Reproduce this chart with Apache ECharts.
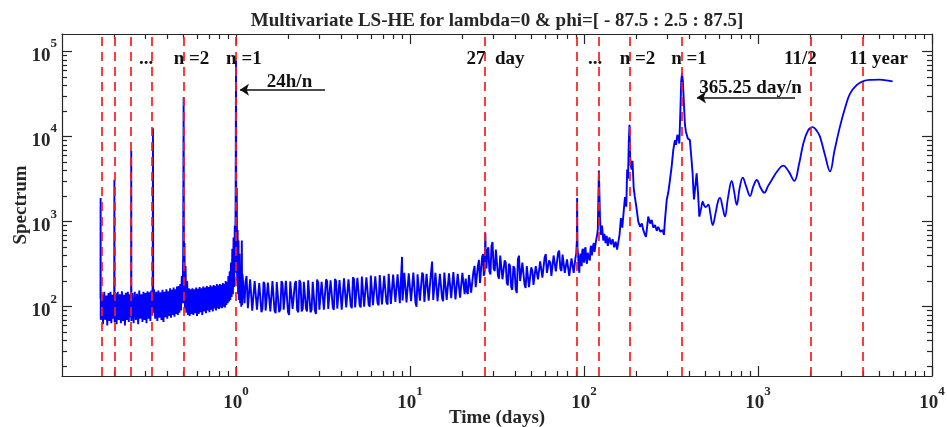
<!DOCTYPE html>
<html><head><meta charset="utf-8">
<script src="https://cdn.jsdelivr.net/npm/echarts@6/dist/echarts.min.js"></script>
<style>html,body{margin:0;padding:0;background:#fff}#c{width:947px;height:427px}</style>
</head><body><div id="c"></div>
<script>
// ---- data (period in days, spectrum value) ----
const diurnalBand = [[0.1664,125],[0.1667,1900],[0.1670,70],[0.1700,140],[0.1720,62],[0.1750,150],[0.1770,70],[0.1800,135],[0.1820,60],[0.1850,145],[0.1870,68],[0.1900,150],[0.1920,64],[0.1950,138],[0.1970,72],[0.1995,130],[0.2000,3100],[0.2005,66],[0.2030,145],[0.2060,62],[0.2090,150],[0.2120,70],[0.2150,140],[0.2180,64],[0.2210,152],[0.2240,68],[0.2270,138],[0.2300,60],[0.2330,146],[0.2360,70],[0.2390,150],[0.2420,66],[0.2450,140],[0.2480,75],[0.2495,150],[0.2500,6800],[0.2505,68],[0.2540,145],[0.2580,64],[0.2620,150],[0.2660,70],[0.2700,142],[0.2740,62],[0.2780,155],[0.2820,72],[0.2860,140],[0.2900,66],[0.2940,150],[0.2980,70],[0.3020,145],[0.3060,64],[0.3100,152],[0.3140,72],[0.3180,148],[0.3220,68],[0.3260,155],[0.3300,80],[0.3320,220],[0.3333,12500],[0.3345,85],[0.3380,160],[0.3430,72],[0.3480,150],[0.3530,68],[0.3580,155],[0.3630,74],[0.3680,148],[0.3730,70],[0.3780,158],[0.3830,66],[0.3880,150],[0.3930,75],[0.3980,160],[0.4030,72],[0.4080,152],[0.4130,78],[0.4180,165],[0.4230,74],[0.4280,158],[0.4330,80],[0.4380,168],[0.4430,76],[0.4480,160],[0.4530,82],[0.4580,172],[0.4630,80],[0.4680,175],[0.4730,85],[0.4780,185],[0.4830,90],[0.4880,230],[0.4930,110],[0.4970,420],[0.5000,29000],[0.5030,110],[0.5060,560],[0.5090,95],[0.5130,300],[0.5180,85],[0.5240,200],[0.5300,80],[0.5360,165],[0.5420,78],[0.5480,160],[0.5550,82],[0.5620,165],[0.5690,80],[0.5760,160],[0.5830,84],[0.5900,168],[0.5970,78],[0.6040,162],[0.6110,82],[0.6180,170],[0.6250,86],[0.6320,165],[0.6400,80],[0.6480,172],[0.6560,88],[0.6640,168],[0.6720,84],[0.6800,175],[0.6880,90],[0.6960,170],[0.7040,86],[0.7120,178],[0.7200,92],[0.7280,172],[0.7360,88],[0.7440,180],[0.7520,95],[0.7600,175],[0.7680,90],[0.7760,185],[0.7840,96],[0.7920,178],[0.8000,94],[0.8080,185],[0.8160,98],[0.8240,180],[0.8320,96],[0.8400,190],[0.8480,100],[0.8560,185],[0.8640,98],[0.8720,200],[0.8800,105],[0.8880,195],[0.8960,110],[0.9040,230],[0.9120,115],[0.9200,260],[0.9280,120],[0.9360,330],[0.9440,130],[0.9520,480],[0.9600,140],[0.9680,650],[0.9760,170],[0.9840,900],[0.9900,300],[0.9960,3000],[1.0000,78000],[1.0040,250],[1.0100,2500],[1.0160,200],[1.0220,800],[1.0280,140],[1.0340,600],[1.0400,120],[1.0480,420],[1.0560,110],[1.0640,300],[1.0720,100],[1.0800,600],[1.0850,105],[1.0900,240]];
const weatherBand = [[1.12,110],[1.135,200],[1.15,230],[1.17,96],[1.19,98],[1.205,210],[1.22,205],[1.24,90],[1.26,92],[1.28,200],[1.30,195],[1.32,92],[1.34,88],[1.36,190],[1.38,200],[1.40,86],[1.42,95],[1.44,196],[1.46,185],[1.48,90],[1.50,86],[1.525,192],[1.55,198],[1.575,88],[1.60,92],[1.62,200],[1.64,190],[1.665,90],[1.69,84],[1.715,195],[1.74,205],[1.77,86],[1.80,94],[1.825,200],[1.85,188],[1.88,92],[1.91,88],[1.935,202],[1.96,196],[1.99,86],[2.02,80],[2.05,198],[2.08,192],[2.115,94],[2.15,90],[2.18,188],[2.21,200],[2.245,92],[2.28,86],[2.315,206],[2.35,190],[2.385,88],[2.42,94],[2.455,196],[2.49,205],[2.525,95],[2.56,88],[2.60,204],[2.64,195],[2.68,86],[2.72,92],[2.76,196],[2.80,200],[2.84,90],[2.88,82],[2.925,208],[2.97,192],[3.015,92],[3.06,95],[3.105,196],[3.15,206],[3.20,92],[3.25,90],[3.295,210],[3.34,198],[3.39,94],[3.44,96],[3.495,204],[3.55,210],[3.60,98],[3.65,92],[3.705,212],[3.76,200],[3.82,95],[3.88,98],[3.935,206],[3.99,212],[4.05,92],[4.11,94],[4.175,216],[4.24,205],[4.30,98],[4.36,100],[4.43,210],[4.50,220],[4.565,102],[4.63,96],[4.70,222],[4.77,210],[4.84,98],[4.91,102],[4.985,218],[5.06,225],[5.135,104],[5.21,98],[5.29,226],[5.37,215],[5.45,100],[5.53,105],[5.615,222],[5.70,228],[5.785,106],[5.87,100],[5.955,232],[6.04,220],[6.13,104],[6.22,108],[6.315,228],[6.41,235],[6.505,110],[6.60,104],[6.70,236],[6.80,225],[6.90,106],[7.00,110],[7.105,230],[7.21,240],[7.32,112],[7.43,106],[7.54,244],[7.65,232],[7.765,108],[7.88,112],[8.00,238],[8.12,245],[8.24,114],[8.36,108],[8.485,240],[8.61,250],[8.74,110],[8.87,115],[9.00,385],[9.07,118],[9.14,112],[9.275,250],[9.41,240],[9.55,112],[9.69,118],[9.835,246],[9.98,255],[10.14,116],[10.3,110],[10.45,252],[10.6,245],[10.75,112],[10.9,100],[11.05,240],[11.2,250],[11.4,118],[11.6,115],[11.75,252],[11.9,238],[12.1,114],[12.3,120],[12.45,244],[12.6,248],[12.8,118],[13.0,114],[13.2,250],[13.4,340],[13.6,120],[13.8,118],[14.0,250],[14.2,242],[14.4,116],[14.6,122],[14.85,244],[15.1,250],[15.3,124],[15.5,116],[15.75,252],[16.0,245],[16.25,120],[16.5,124],[16.75,246],[17.0,255],[17.25,126],[17.5,120],[17.75,256],[18.0,248],[18.25,122],[18.5,126],[18.8,244],[19.1,252],[19.4,128],[19.7,122],[20.0,250],[20.3,240]];
const monthlyBand = [[20.6,140],[20.9,214],[21.2,150],[21.5,141],[21.8,236],[22.1,229],[22.45,146],[22.8,151],[23.15,260],[23.5,302],[23.85,170],[24.2,166],[24.55,300],[24.9,355],[25.25,190],[25.6,200],[25.95,380],[26.3,417],[26.55,230],[26.8,251],[27.1,740],[27.3,300],[27.5,282],[27.85,460],[28.2,500],[28.6,260],[29.0,240],[29.4,520],[29.8,575],[30.25,280],[30.7,263],[31.15,470],[31.6,447],[32.05,230],[32.5,214],[33.0,400],[33.5,380],[34.0,210],[34.5,200],[35.0,350],[35.5,331],[36.0,190],[36.5,178],[37.05,320],[37.6,302],[38.15,170],[38.7,158],[39.3,300],[39.9,282],[40.5,160],[41.1,145],[41.7,360],[42.3,398],[42.95,200],[43.6,190],[44.25,330],[44.9,316],[45.55,180],[46.2,166],[46.9,300],[47.6,288],[48.3,170],[49.0,178],[49.75,290],[50.5,263],[51.25,180],[52.0,174],[52.8,300],[53.6,316],[54.4,210],[55.2,200],[56.0,340],[56.8,355],[57.65,220],[58.5,209],[59.4,380],[60.3,417],[61.2,250],[62.1,240],[63.05,350],[64.0,331],[64.95,230],[65.9,219],[66.9,400],[67.9,380],[68.9,260],[69.9,251],[70.95,430],[72.0,457],[73.1,280],[74.2,263],[75.3,410],[76.4,398],[77.55,250],[78.7,240],[79.85,360],[81.0,380],[82.25,230],[83.5,219],[84.75,370],[86.0,355],[87.25,250],[88.5,240],[89.4,380],[90.2,417]];
const seasonalBand = [[91.0,600],[91.3,1900],[91.7,500],[92.5,400],[93.2,300],[94,250],[94.7,380],[95.5,420],[96.2,330],[97,300],[97.7,450],[98.5,480],[99.2,360],[100,330],[101,470],[102,500],[103,350],[104,320],[105,430],[106,450],[107,370],[108,350],[109,490],[110,520],[111,400],[112,380],[113,530],[114,560],[115,440],[116,420],[117,580],[118,600],[119,700],[120,800],[121.75,4000],[123.5,1150],[125,700],[127,900],[129,600],[131,720],[133,560],[135,680],[137,520],[140,650],[143,540],[146,620],[149,500],[152,580],[155,470],[157,480],[160,700],[163,1100],[166,850],[169,1300],[172,1950],[175,1500],[177,4100],[179,3200],[181,9000],[182.6,13800],[184,6000],[186,4500],[188,4100],[190,5200],[193,2500],[196,1950],[201,1380],[205,1000],[210,870],[215,950],[219,800],[223,720],[227,660],[231,900],[234,1150],[240,950],[245,1050],[250,850],[256,910],[262,780],[267,870],[275,760],[283,800],[288,700],[292,1050],[299,1820],[305,2200],[312,3100],[319,4470],[326,7000],[333,9100],[338,8000],[344,10500],[349,9500],[353,8300],[358,20000],[362,45000],[366,56000],[370,45000],[375,25000],[380,14000],[385,11500],[389,11000],[395,9500],[400,10000],[406,9100],[413,6000],[421,3700],[425,2400],[429,1820],[436,2600],[444,3700],[452,2200],[460,1150]];
const longPeriod = [[460,1150],[472,1450],[481,1720],[490,1560],[500,1480],[518,1580],[532,1250],[549,912],[570,1250],[590,1750],[605,1900],[625,1500],[646,1150],[672,1900],[706,3020],[728,2300],[755,1580],[785,2500],[817,3300],[855,2600],[900,2000],[940,2600],[984,3090],[1035,2500],[1087,2190],[1140,2600],[1199,3090],[1300,4000],[1397,4570],[1500,3900],[1617,3020],[1720,4700],[1822,8300],[1940,11800],[2062,12900],[2170,11800],[2270,10000],[2430,6000],[2594,3900],[2750,6800],[2960,13200],[3170,22000],[3380,32000],[3700,40500],[4030,45000],[4500,46500],[5020,46800],[5500,45800],[5940,44700]];

// reference periods (days): 24h/n for n=6..1, 27 day, 365.25/n for n=4..1, 11/2 and 11 years
const referencePeriods = [0.1667, 0.2, 0.25, 0.3333, 0.5, 1, 27, 91.31, 121.75, 182.63, 365.25, 2008.9, 4017.8];

// annotation texts and their anchor points in data coordinates
const annotationTexts = ['...', 'n =2', 'n =1', '24h/n', '27  day', '...', 'n =2', 'n =1', '365.25 day/n', '11/2', '11 year'];
const annotationX = [0.304, 0.555, 1.11, 2.03, 31.0, 115.7, 203, 401, 906, 1754, 4930];
const annotationY = [82000, 82000, 82000, 44000, 82000, 82000, 82000, 82000, 37400, 82000, 82000];
const arrowFrom = [[3.25, 35500], [1632, 28800]];
const arrowTo = [[1.054, 35500], [446, 28800]];

// axis ticks
const xMajorTicks = [1, 10, 100, 1000, 10000];
const xMinorTicks = [0.2,0.3,0.4,0.5,0.6,0.7,0.8,0.9,2,3,4,5,6,7,8,9,20,30,40,50,60,70,80,90,200,300,400,500,600,700,800,900,2000,3000,4000,5000,6000,7000,8000,9000];
const yMajorTicks = [100, 1000, 10000, 100000];
const yMinorTicks = [20,30,40,50,60,70,80,90,200,300,400,500,600,700,800,900,2000,3000,4000,5000,6000,7000,8000,9000,20000,30000,40000,50000,60000,70000,80000,90000];
const xRange = [0.1, 10000];
const yRange = [15.3, 161000];

// ---- chart ----
const FONT = 'Liberation Serif';
const INK = '#262626';
const richLabel = {
  b: {fontFamily: FONT, fontWeight: 'bold', fontSize: 19, color: INK, lineHeight: 28, verticalAlign: 'bottom'},
  s: {fontFamily: FONT, fontWeight: 'bold', fontSize: 13, color: INK, lineHeight: 12, verticalAlign: 'top'}
};
function powLabel(v) {
  const e = Math.round(Math.log10(v));
  return '{b|10}{s|' + e + '}';
}
function makeAxis(dim, pos, ticks, len, withLabel, withLine, range) {
  return {
    type: 'log', position: pos, min: range[0], max: range[1], logBase: 10,
    splitLine: {show: false},
    axisLine: {show: withLine, onZero: false, lineStyle: {color: INK, width: 1.2}},
    axisTick: {show: true, inside: true, length: len, customValues: ticks, lineStyle: {color: INK, width: 1.2}},
    axisLabel: {show: withLabel, customValues: ticks, formatter: powLabel, rich: richLabel, margin: dim === 'x' ? 9 : 5}
  };
}
const xAxes = [
  makeAxis('x', 'bottom', xMajorTicks, 10, true, true, xRange),
  makeAxis('x', 'bottom', xMinorTicks, 5, false, false, xRange),
  makeAxis('x', 'top', xMajorTicks, 10, false, true, xRange),
  makeAxis('x', 'top', xMinorTicks, 5, false, false, xRange)
];
const yAxes = [
  makeAxis('y', 'left', yMajorTicks, 10, true, true, yRange),
  makeAxis('y', 'left', yMinorTicks, 5, false, false, yRange),
  makeAxis('y', 'right', yMajorTicks, 10, false, true, yRange),
  makeAxis('y', 'right', yMinorTicks, 5, false, false, yRange)
];
Object.assign(xAxes[0], {name: 'Time (days)', nameLocation: 'middle', nameGap: 33, nameMoveOverlap: false,
  nameTextStyle: {fontFamily: FONT, fontWeight: 'bold', fontSize: 19, color: INK, verticalAlign: 'top'}});
Object.assign(yAxes[0], {name: 'Spectrum', nameLocation: 'middle', nameGap: 31, nameMoveOverlap: false,
  nameTextStyle: {fontFamily: FONT, fontWeight: 'bold', fontSize: 19, color: INK}});

const noisy = diurnalBand.concat(weatherBand, monthlyBand, seasonalBand);

const chart = echarts.init(document.getElementById('c'), null, {renderer: 'canvas'});
chart.setOption({
  animation: false,
  backgroundColor: '#fff',
  textStyle: {fontFamily: FONT},
  grid: {left: 62, right: 15, top: 34, bottom: 51, containLabel: false, outerBoundsMode: 'none'},
  xAxis: xAxes,
  yAxis: yAxes,
  series: [
    {type: 'line', data: noisy, symbol: 'none', sampling: null, lineStyle: {color: '#0000ff', width: 1.9}, z: 2},
    {type: 'line', data: longPeriod, symbol: 'none', smooth: 0.4, lineStyle: {color: '#0000ff', width: 1.8}, z: 2},
    {type: 'line', data: [], z: 3,
      markLine: {silent: true, symbol: 'none', animation: false, label: {show: false},
        lineStyle: {color: '#ff1a1a', type: [9, 6], width: 1.7},
        data: referencePeriods.map(v => ({xAxis: v}))}},
    {type: 'line', data: [], z: 4,
      markLine: {silent: true, symbol: ['none', 'arrow'], symbolSize: 9, animation: false, label: {show: false},
        lineStyle: {color: '#111', type: 'solid', width: 1.5},
        data: arrowFrom.map((p, i) => [{coord: p}, {coord: arrowTo[i]}])}}
  ]
});

// title and annotations (annotation anchors converted from data coordinates by the chart's own axes)
const graphics = [{
  type: 'text', x: 497, y: 21, z: 10,
  style: {text: 'Multivariate LS-HE for lambda=0 & phi=[ - 87.5 : 2.5 : 87.5]', fontFamily: FONT, fontWeight: 'bold',
    fontSize: 19, fill: INK, align: 'center', verticalAlign: 'middle'}
}];
annotationTexts.forEach((t, i) => {
  const p = chart.convertToPixel({xAxisIndex: 0, yAxisIndex: 0}, [annotationX[i], annotationY[i]]);
  graphics.push({type: 'text', x: p[0], y: p[1], z: 10,
    style: {text: t, fontFamily: FONT, fontWeight: 'bold', fontSize: 19, fill: '#111', align: 'center', verticalAlign: 'middle'}});
});
chart.setOption({graphic: graphics});
</script>
</body></html>
